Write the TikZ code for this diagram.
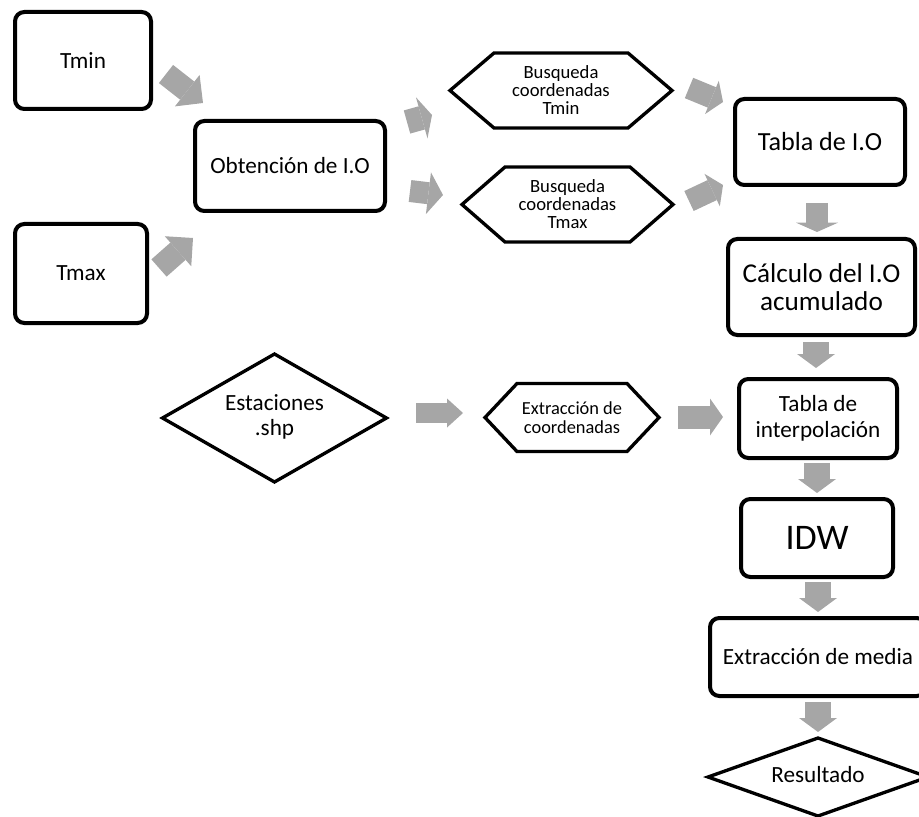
\documentclass[tikz,border=0pt]{standalone}
\usepackage{fontspec}
\setmainfont{Carlito}
\usetikzlibrary{arrows.meta}
\definecolor{arrgray}{HTML}{A6A6A6}
\begin{document}
\begin{tikzpicture}[x=0.75pt,y=-0.75pt,
  box/.style={draw=black, line width=3pt, rounded corners=7pt, fill=white, align=center, inner sep=0pt},
  lbl/.style={align=center, inner sep=0pt},
  outline/.style={draw=black, line width=2.5pt, line join=miter},
  mainfont/.style={font=\fontsize{17.4}{20}\selectfont},
  smallfont/.style={font=\fontsize{14}{13.5}\selectfont},
  blk/.style n args={3}{draw=arrgray, line width=#1, -{Triangle[length=#2, width=#3, line width=0pt]}}
]
\useasboundingbox (0,0) rectangle (919,816);
\clip (0,0) rectangle (919,816);

% rectangles
\node[box, mainfont, minimum width=102pt, minimum height=72.75pt] (tmin) at (83,60.5) {Tmin};
\node[box, mainfont, minimum width=99pt, minimum height=74.25pt] (tmax) at (81,273.5) {Tmax};
\node[box, mainfont, minimum width=142.5pt, minimum height=67.5pt] (obt) at (290,166) {Obtención de I.O};
\node[box, font=\fontsize{19.6}{22}\selectfont, minimum width=127.5pt, minimum height=64.5pt] (tio) at (820,142) {Tabla de I.O};
\node[box, font=\fontsize{20.4}{21}\selectfont, minimum width=140.25pt, minimum height=72pt] (calc) at (821.5,287) {Cálculo del I.O\\acumulado};
\node[box, font=\fontsize{17.4}{19.5}\selectfont, minimum width=118.5pt, minimum height=59.25pt] (tint) at (818,418.5) {Tabla de\\interpolación};
\node[box, font=\fontsize{27}{32}\selectfont, minimum width=114pt, minimum height=58.5pt] (idw) at (817,538) {IDW};
\node[box, mainfont, minimum width=162pt, minimum height=58.5pt] (media) at (818,657) {Extracción de media};

% hexagons
\node[lbl, smallfont] (h1) at (561,90.5) {Busqueda\\coordenadas\\Tmin};
\draw[outline, shift={(h1.center)}] (-111,0) -- (-67,-37.5) -- (67,-37.5) -- (111,0) -- (67,37.5) -- (-67,37.5) -- cycle;
\node[lbl, smallfont] (h2) at (567.5,204.5) {Busqueda\\coordenadas\\Tmax};
\draw[outline, shift={(h2.center)}] (-105.5,0) -- (-62.5,-37.5) -- (62.5,-37.5) -- (105.5,0) -- (62.5,37.5) -- (-62.5,37.5) -- cycle;
\node[lbl, font=\fontsize{13.8}{14.2}\selectfont] (h3) at (572,417.5) {Extracción de\\coordenadas};
\draw[outline, shift={(h3.center)}] (-87,0) -- (-55,-34) -- (55,-34) -- (87,0) -- (55,34) -- (-55,34) -- cycle;

% diamonds
\node[lbl, font=\fontsize{17.4}{18.75}\selectfont] (est) at (274.5,417) {Estaciones\\.shp};
\draw[outline, shift={(274.5,418)}] (-112,0) -- (0,-64) -- (112,0) -- (0,64) -- cycle;
\node[lbl, mainfont] (res) at (818,775) {Resultado};
\draw[outline, shift={(818,777)}] (-110,0) -- (0,-39) -- (110,0) -- (0,39) -- cycle;

% arrow end points
\coordinate (a1s) at (166,74);   \coordinate (a1e) at (203,103);
\coordinate (a2s) at (159,268);  \coordinate (a2e) at (193,238);
\coordinate (a3s) at (407,122);  \coordinate (a3e) at (432,115);
\coordinate (a4s) at (410,191);  \coordinate (a4e) at (443,195);
\coordinate (a5s) at (689,88);   \coordinate (a5e) at (723,102);
\coordinate (a6s) at (689,201);  \coordinate (a6e) at (723,185);
\coordinate (a7s) at (817,203);  \coordinate (a7e) at (817,232);
\coordinate (a8s) at (816,342);  \coordinate (a8e) at (816,368);
\coordinate (a9s) at (817,463);  \coordinate (a9e) at (817,493);
\coordinate (a10s) at (818,582); \coordinate (a10e) at (818,612);
\coordinate (a11s) at (818,702); \coordinate (a11e) at (818,732);
\coordinate (a12s) at (416,413); \coordinate (a12e) at (463,413);
\coordinate (a13s) at (678,417); \coordinate (a13e) at (723,417);

% block arrows
\draw[blk={17.25pt}{15pt}{30pt}] (a1s) -- (a1e);
\draw[blk={17.25pt}{15pt}{30pt}] (a2s) -- (a2e);
\draw[blk={18pt}{8pt}{32pt}] (a3s) -- (a3e);
\draw[blk={16.5pt}{11pt}{31.5pt}] (a4s) -- (a4e);
\draw[blk={16.5pt}{9pt}{27pt}] (a5s) -- (a5e);
\draw[blk={16.5pt}{9pt}{27pt}] (a6s) -- (a6e);
\draw[blk={16.5pt}{7pt}{31.5pt}] (a7s) -- (a7e);
\draw[blk={19.5pt}{10.5pt}{28.5pt}] (a8s) -- (a8e);
\draw[blk={19.5pt}{10.5pt}{28.5pt}] (a9s) -- (a9e);
\draw[blk={19.5pt}{10.5pt}{28.5pt}] (a10s) -- (a10e);
\draw[blk={19.5pt}{10.5pt}{28.5pt}] (a11s) -- (a11e);
\draw[blk={15pt}{12pt}{21.75pt}] (a12s) -- (a12e);
\draw[blk={17.25pt}{9.75pt}{27.75pt}] (a13s) -- (a13e);
\end{tikzpicture}
\end{document}
